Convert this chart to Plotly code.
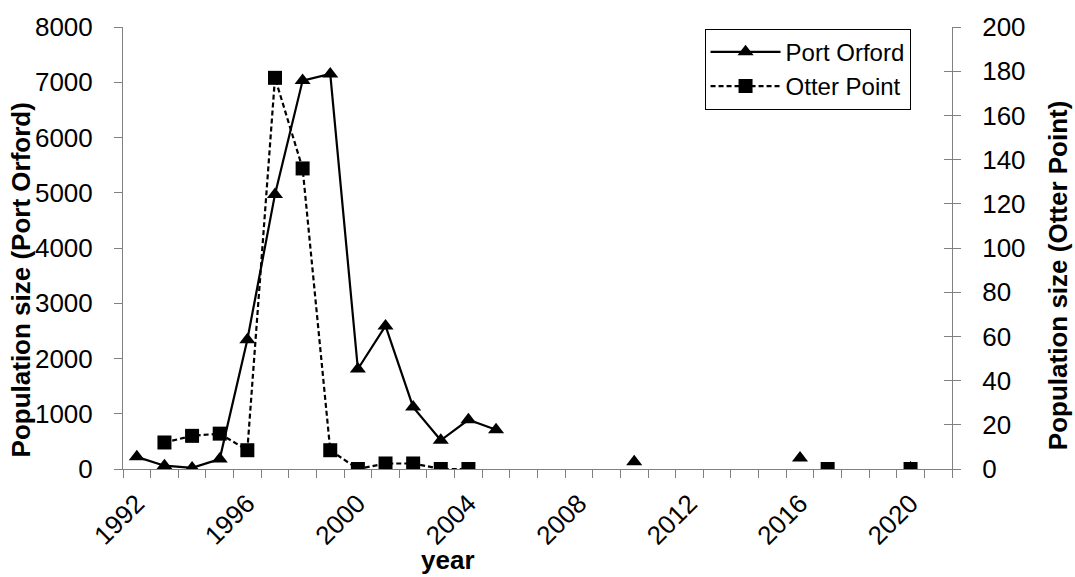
import plotly.graph_objects as go

years = [1992, 1993, 1994, 1995, 1996, 1997, 1998, 1999, 2000, 2001,
         2002, 2003, 2004, 2005, 2006, 2007, 2008, 2009, 2010, 2011,
         2012, 2013, 2014, 2015, 2016, 2017, 2018, 2019, 2020, 2021]

port_orford = [220, 60, 20, 180, 2340, 4970, 7030, 7150, 1810, 2590,
               1120, 520, 890, 710, None, None, None, None, 130, None,
               None, None, None, None, 200, None, None, None, 20, None]

otter_point = [None, 12, 15, 16, 8.5, 177, 136, 8.5, 0, 2.5,
               2.5, 0, 0, None, None, None, None, None, None, None,
               None, None, None, None, None, 0, None, None, 0, None]

tick_years = [1992, 1996, 2000, 2004, 2008, 2012, 2016, 2020]
tick_text = [str(y) for y in tick_years]

FONT = "Liberation Sans, Arial, sans-serif"
AXIS_COLOR = "#808080"

fig = go.Figure()
fig.add_trace(go.Scatter(
    x=years, y=port_orford, name="Port Orford", mode="lines+markers",
    line=dict(color="black", width=2.2),
    marker=dict(symbol="triangle-up", size=14, color="black"),
    yaxis="y"))
fig.add_trace(go.Scatter(
    x=years, y=otter_point, name="Otter Point", mode="lines+markers",
    line=dict(color="black", width=2.2, dash="5px,3px"),
    marker=dict(symbol="square", size=14, color="black"),
    yaxis="y2"))
fig.add_trace(go.Scatter(x=[None], y=[None], showlegend=False, yaxis="y3",
                         hoverinfo="skip"))

fig.update_layout(
    width=1075, height=577,
    margin=dict(l=123, r=123, t=20, b=108),
    paper_bgcolor="white", plot_bgcolor="white",
    font=dict(family=FONT, size=26, color="black"),
    showlegend=True,
    legend=dict(x=0.950, y=0.996, xanchor="right", yanchor="top",
                bordercolor="black", borderwidth=1, bgcolor="white",
                font=dict(size=24), itemwidth=70, tracegroupgap=0),
    xaxis=dict(range=[1991.5, 2021.5], tickmode="array", tickvals=tick_years,
               ticktext=tick_text, tickangle=-45, ticks="", showgrid=False,
               zeroline=False, showline=True, linecolor=AXIS_COLOR, linewidth=1,
               ticklabelstandoff=8,
               minor=dict(tickmode="linear", tick0=1991.5, dtick=1,
                          ticks="outside", ticklen=8, tickcolor=AXIS_COLOR,
                          tickwidth=1, showgrid=False)),
    yaxis=dict(range=[0, 8000], dtick=1000, ticks="outside", ticklen=8,
               tickcolor=AXIS_COLOR, showgrid=False, zeroline=False,
               showline=True, linecolor=AXIS_COLOR, linewidth=1,
               ticklabelstandoff=16),
    yaxis2=dict(range=[0, 200], dtick=20, overlaying="y", side="right",
                ticks="outside", ticklen=8, tickcolor=AXIS_COLOR,
                showgrid=False, zeroline=False, showline=True,
                linecolor=AXIS_COLOR, linewidth=1, ticklabelstandoff=16),
    yaxis3=dict(range=[0, 200], dtick=20, overlaying="y", side="right",
                ticks="inside", ticklen=8, tickcolor=AXIS_COLOR,
                showticklabels=False, showgrid=False, zeroline=False,
                showline=False),
    annotations=[
        dict(text="<b>Population size (Port Orford)</b>", textangle=-90,
             xref="paper", yref="paper", x=-0.1225, y=0.4276,
             xanchor="center", yanchor="middle", showarrow=False,
             font=dict(size=26)),
        dict(text="<b>Population size (Otter Point)</b>", textangle=-90,
             xref="paper", yref="paper", x=1.128, y=0.4388,
             xanchor="center", yanchor="middle", showarrow=False,
             font=dict(size=26)),
        dict(text="<b>year</b>", xref="paper", yref="paper",
             x=0.392, y=-0.207, xanchor="center", yanchor="middle",
             showarrow=False, font=dict(size=26)),
    ],
)

fig.write_html("out.html",
               config={"displayModeBar": False},
               post_script="document.body.style.margin='0';"
                           "document.body.style.overflow='hidden';")
